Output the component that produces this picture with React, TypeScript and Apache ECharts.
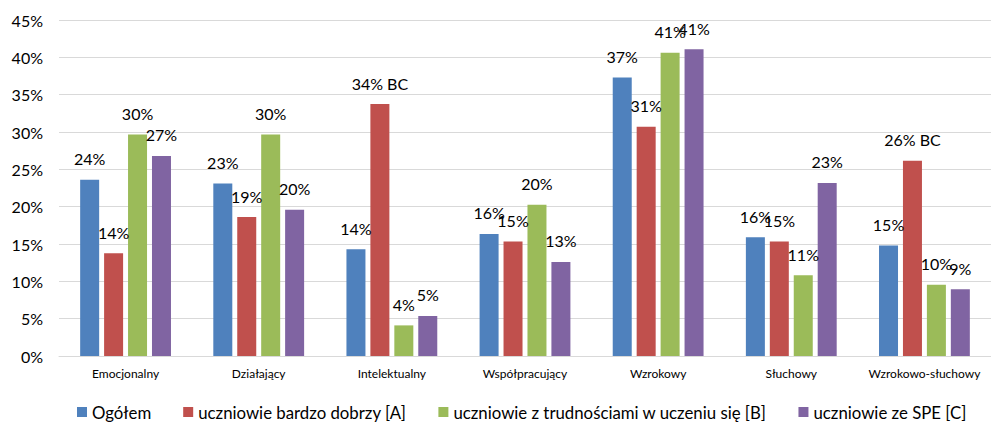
import React, { useEffect, useRef } from "react";
import * as echarts from "echarts";

const categories = [
  "Emocjonalny",
  "Działający",
  "Intelektualny",
  "Współpracujący",
  "Wzrokowy",
  "Słuchowy",
  "Wzrokowo-słuchowy",
];
const seriesNames = [
  "Ogółem",
  "uczniowie bardzo dobrzy [A]",
  "uczniowie z trudnościami w uczeniu się [B]",
  "uczniowie ze SPE [C]",
];
const ogolem = [23.6, 23.1, 14.3, 16.35, 37.3, 15.9, 14.8];
const bardzoDobrzy = [13.75, 18.6, 33.75, 15.35, 30.7, 15.35, 26.15];
const trudnosci = [29.65, 29.65, 4.1, 20.27, 40.6, 10.8, 9.55];
const spe = [26.8, 19.6, 5.36, 12.6, 41.07, 23.17, 8.93];
const bardzoDobrzySuffix = ["", "", " BC", "", "", "", " BC"];
const colors = ["#4F81BD", "#C0504D", "#9BBB59", "#8064A2"];
const yTicks = { min: 0, max: 45, interval: 5 };

const FONT = "Lato, 'Open Sans', sans-serif";

export default function App() {
  const ref = useRef<HTMLDivElement>(null);
  useEffect(() => {
    document.body.style.margin = "0";
    if (!ref.current) return;
    const chart = echarts.init(ref.current, undefined, { renderer: "svg" });
    const data = [ogolem, bardzoDobrzy, trudnosci, spe];
    const suffixes = [null, bardzoDobrzySuffix, null, null];
    chart.setOption({
      animation: false,
      textStyle: { fontFamily: FONT },
      grid: { left: 59, right: -7, top: 20, bottom: 67 },
      legend: {
        left: 77,
        top: 402,
        itemWidth: 10,
        itemHeight: 10,
        itemGap: 32,
        padding: 0,
        icon: "rect",
        textStyle: { fontSize: 16.8, color: "#000", fontFamily: FONT, lineHeight: 20 },
        data: seriesNames,
      },
      xAxis: {
        type: "category",
        data: categories,
        axisLine: { lineStyle: { color: "#D9D9D9", width: 1 } },
        axisTick: { show: false },
        axisLabel: { interval: 0, fontSize: 12, color: "#000", margin: 11, fontFamily: FONT },
      },
      yAxis: {
        type: "value",
        min: yTicks.min,
        max: yTicks.max,
        interval: yTicks.interval,
        axisLine: { show: false },
        axisTick: { show: false },
        splitLine: { lineStyle: { color: "#D9D9D9", width: 1 } },
        axisLabel: {
          fontSize: 16,
          color: "#000",
          margin: 16,
          fontFamily: FONT,
          formatter: "{value}%",
        },
      },
      series: data.map((vals, i) => ({
        name: seriesNames[i],
        type: "bar",
        data: vals,
        barWidth: 19,
        barGap: "26%",
        itemStyle: { color: colors[i] },
        label: {
          show: true,
          position: "top",
          distance: 13,
          fontSize: 16,
          color: "#000",
          fontFamily: FONT,
          formatter: (p: any) =>
            Math.round(p.value) + "%" + (suffixes[i] ? suffixes[i]![p.dataIndex] : ""),
        },
      })),
    });
    return () => chart.dispose();
  }, []);
  return <div ref={ref} style={{ width: 991, height: 423 }} />;
}
